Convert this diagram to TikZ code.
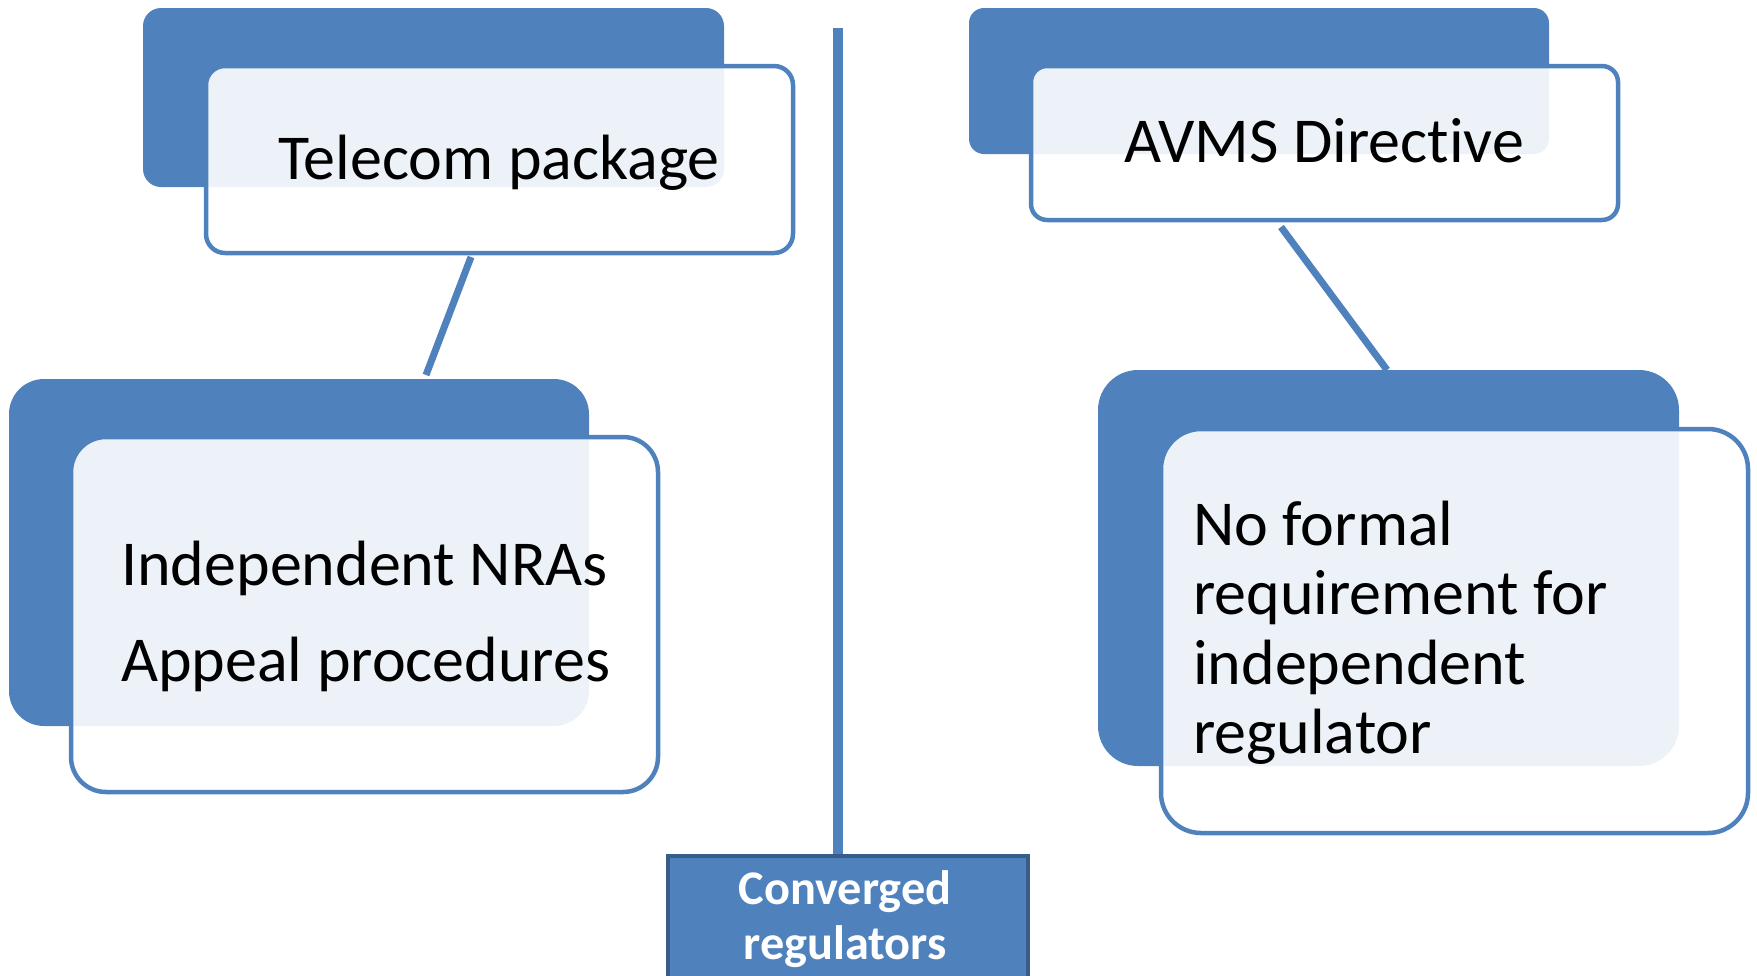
\documentclass[tikz,border=0pt]{standalone}
\usepackage{fontspec}
\setmainfont{Carlito}[Ligatures=NoCommon]
\usetikzlibrary{calc}
\definecolor{blueA}{HTML}{4F81BD}
\definecolor{blueB}{HTML}{385D8A}
\begin{document}
\begin{tikzpicture}[x=1pt,y=-1pt,
  back/.style={fill=blueA, rounded corners=#1, inner sep=0pt, outer sep=0pt, anchor=north west},
  front/.style={draw=blueA, line width=4.5pt, fill=white, fill opacity=0.9, rounded corners=#1, inner sep=0pt, outer sep=0pt, anchor=north west},
  conn/.style={draw=blueA, line width=7pt},
  bigtext/.style={font=\fontsize{64}{70}\selectfont, inner sep=0pt, anchor=base west, text=black},
  convtext/.style={font=\bfseries\fontsize{48.3}{55}\selectfont, inner sep=0pt, anchor=base, text=white},
]
\useasboundingbox (0,0) rectangle (1757,975);
\clip (0,0) rectangle (1757,975);

% vertical divider and converged box
\node[fill=blueA, draw=blueB, line width=4pt, anchor=north west, inner sep=0pt,
      minimum width=360pt, minimum height=170pt] (conv) at (666,854) {};
\coordinate (vtop) at (838,28);
\draw[draw=blueA, line width=10pt] (vtop) -- (vtop |- conv.north);
\node[convtext] (c1) at (845,904) {Converged};
\node[convtext] (c2) at (845,959) {regulators};

% Telecom package
\node[back=18pt, minimum width=581pt, minimum height=179pt] (tb) at (143,8) {};
\node[front=19pt, minimum width=587pt, minimum height=187pt] (tf) at (206,66) {};
\node[bigtext, anchor=base] (t1) at (499,179) {Telecom package};

% Independent NRAs
\node[back=35pt, minimum width=580pt, minimum height=347pt] (ib) at (9,379) {};
\node[front=35pt, minimum width=587pt, minimum height=355pt] (if) at (71,437) {};
\node[bigtext] (i1) at (121,585) {Independent NRAs};
\node[bigtext] (i2) at (121,681) {Appeal procedures};

\draw[conn] ($(tf.south west)+(265,4)$) -- ($(ib.north west)+(417,-4)$);

% AVMS Directive
\node[back=15pt, minimum width=580pt, minimum height=146pt] (ab) at (969,8) {};
\node[front=16pt, minimum width=587pt, minimum height=154pt] (af) at (1031,66) {};
\node[bigtext, anchor=base] (a1) at (1324,162) {AVMS Directive};

% No formal requirement
\node[back=40pt, minimum width=581pt, minimum height=396pt] (nb) at (1098,370) {};
\node[front=40pt, minimum width=587pt, minimum height=404pt] (nf) at (1161,429) {};
\node[bigtext] (n1) at (1193,545) {No formal};
\node[bigtext] (n2) at (1193,614) {requirement for};
\node[bigtext] (n3) at (1193,684) {independent};
\node[bigtext] (n4) at (1193,753) {regulator};

\draw[conn] ($(af.south west)+(250,7)$) -- ($(nb.north west)+(289,0)$);
\end{tikzpicture}
\end{document}
